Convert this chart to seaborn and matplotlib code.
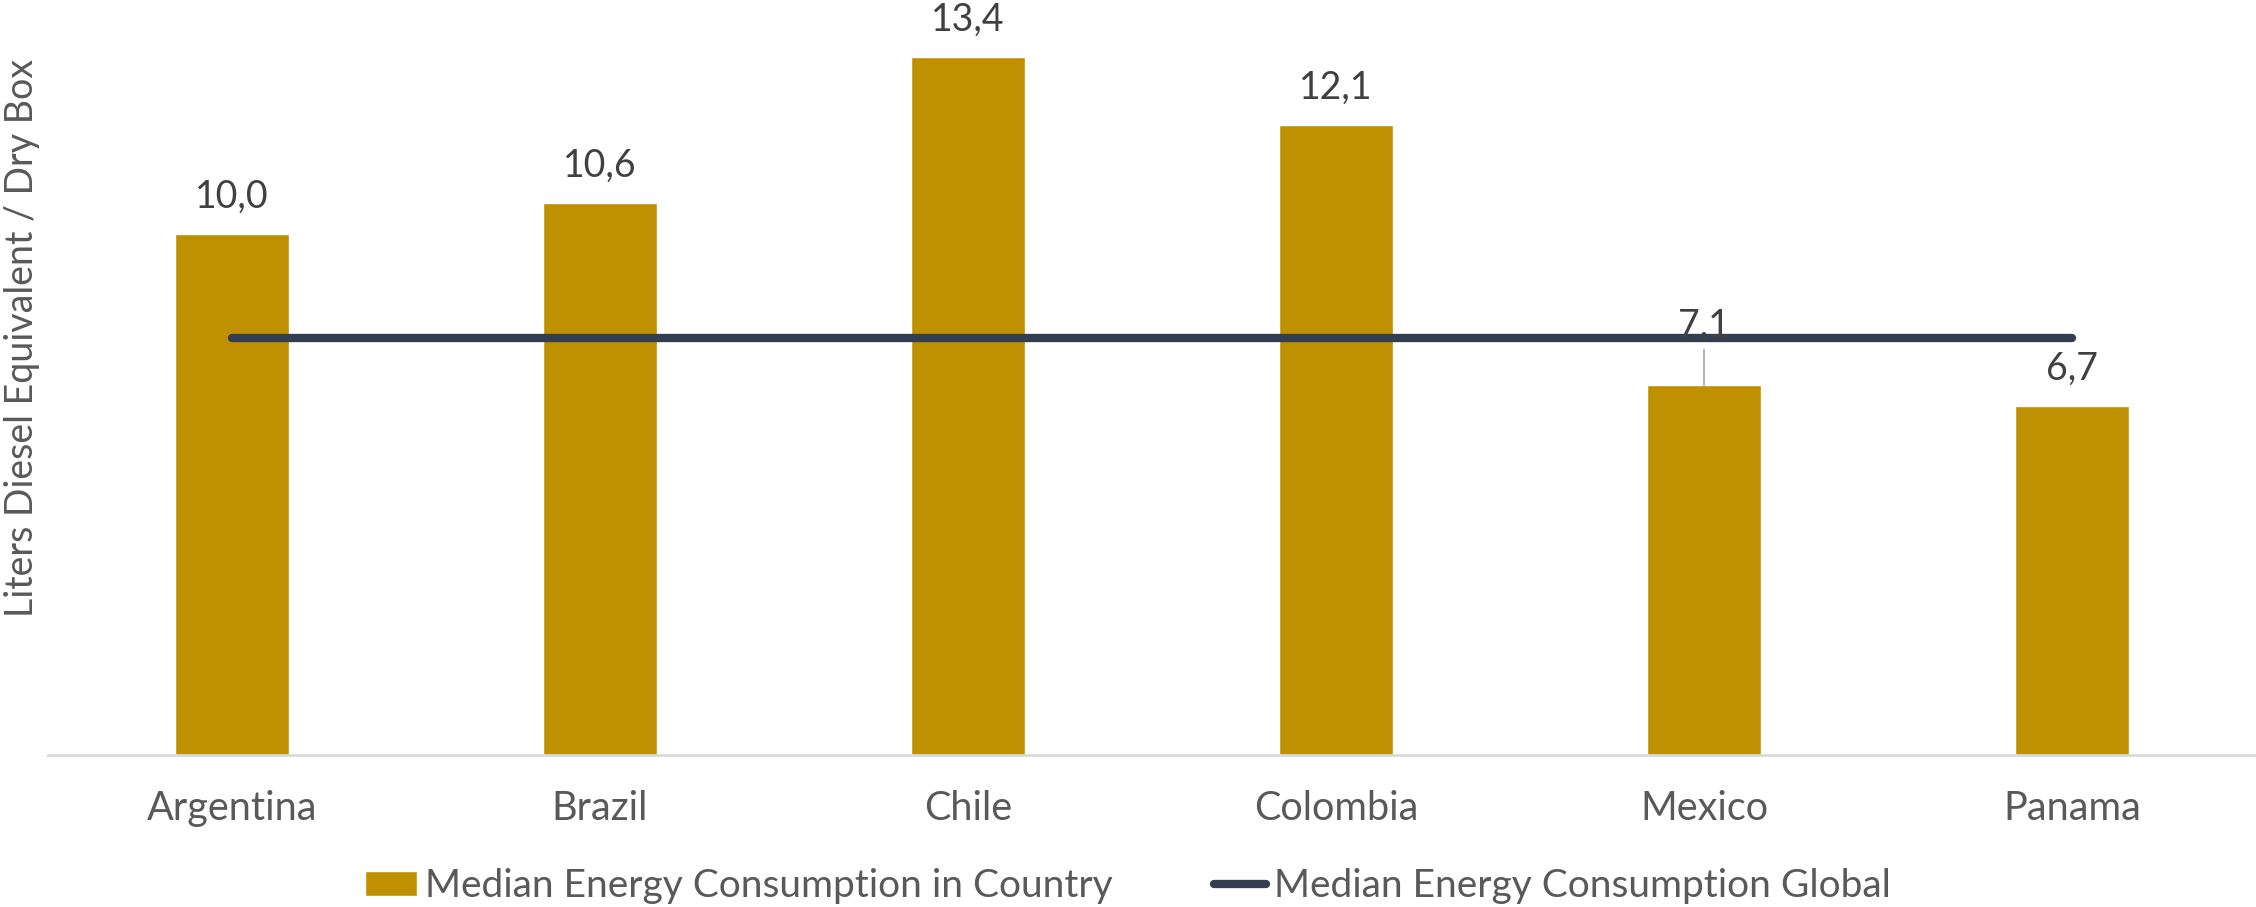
import numpy as np
import pandas as pd
import matplotlib
matplotlib.use("Agg")
import matplotlib.pyplot as plt
import seaborn as sns

countries = ["Argentina", "Brazil", "Chile", "Colombia", "Mexico", "Panama"]
country_median = [10.0, 10.6, 13.4, 12.1, 7.1, 6.7]
global_median = [8.0, 8.0, 8.0, 8.0, 8.0, 8.0]

bar_label = "Median Energy Consumption in Country"
line_label = "Median Energy Consumption Global"
y_title = "Liters Diesel Equivalent / Dry Box"

BAR_COLOR = "#BF9000"
LINE_COLOR = "#333F50"

sns.set_theme(style="white")
plt.rcParams["font.family"] = ["Lato", "DejaVu Sans"]

fig = plt.figure(figsize=(22.56, 9.07), dpi=100)
ax = fig.add_axes([48 / 2256, 152 / 907, 1 - 48 / 2256, 755 / 907])

df = pd.DataFrame({"country": countries, "value": country_median})
sns.barplot(data=df, x="country", y="value", color=BAR_COLOR, saturation=1,
            width=0.31, ax=ax, label=bar_label)

xpos = np.arange(len(countries))
sns.lineplot(x=xpos, y=global_median, color=LINE_COLOR, linewidth=6,
             ax=ax, label=line_label, solid_capstyle="round")

# value labels above each bar; Mexico's is lifted clear of the global line
for i, v in enumerate(country_median):
    txt = f"{v:.1f}".replace(".", ",")
    if countries[i] == "Mexico":
        ax.annotate(txt, xy=(i, v), xytext=(0, 43), textcoords="offset points",
                    ha="center", va="center", fontsize=27, color="#404040",
                    arrowprops=dict(arrowstyle="-", color="#A6A6A6", lw=1.2,
                                    shrinkA=2, shrinkB=0))
    else:
        ax.annotate(txt, xy=(i, v), xytext=(0, 27), textcoords="offset points",
                    ha="center", va="center", fontsize=27, color="#404040")

ax.set_xlim(-0.5, len(countries) - 0.5)
ax.set_ylim(0, 14.5)
ax.set_xlabel("")
ax.set_ylabel("")
ax.set_yticks([])
ax.tick_params(axis="x", length=0, labelsize=28.5, colors="#595959", pad=25)
for s in ["top", "right", "left"]:
    ax.spines[s].set_visible(False)
ax.spines["bottom"].set_color("#D9D9D9")
ax.spines["bottom"].set_linewidth(2)

fig.text(22 / 2256, 1 - 338 / 907, y_title, rotation=90, ha="center",
         va="center", fontsize=27, color="#595959")

handles, labels = ax.get_legend_handles_labels()
if ax.legend_:
    ax.legend_.remove()
order = [labels.index(bar_label), labels.index(line_label)]
fig.legend([handles[k] for k in order], [labels[k] for k in order],
           loc="center", bbox_to_anchor=(0.5, 1 - 886 / 907),
           ncol=2, frameon=False, fontsize=28, labelcolor="#595959",
           handlelength=1.35, handleheight=0.62, handletextpad=0.2,
           columnspacing=2.6)

fig.savefig("out.png", dpi=100, facecolor="white")
